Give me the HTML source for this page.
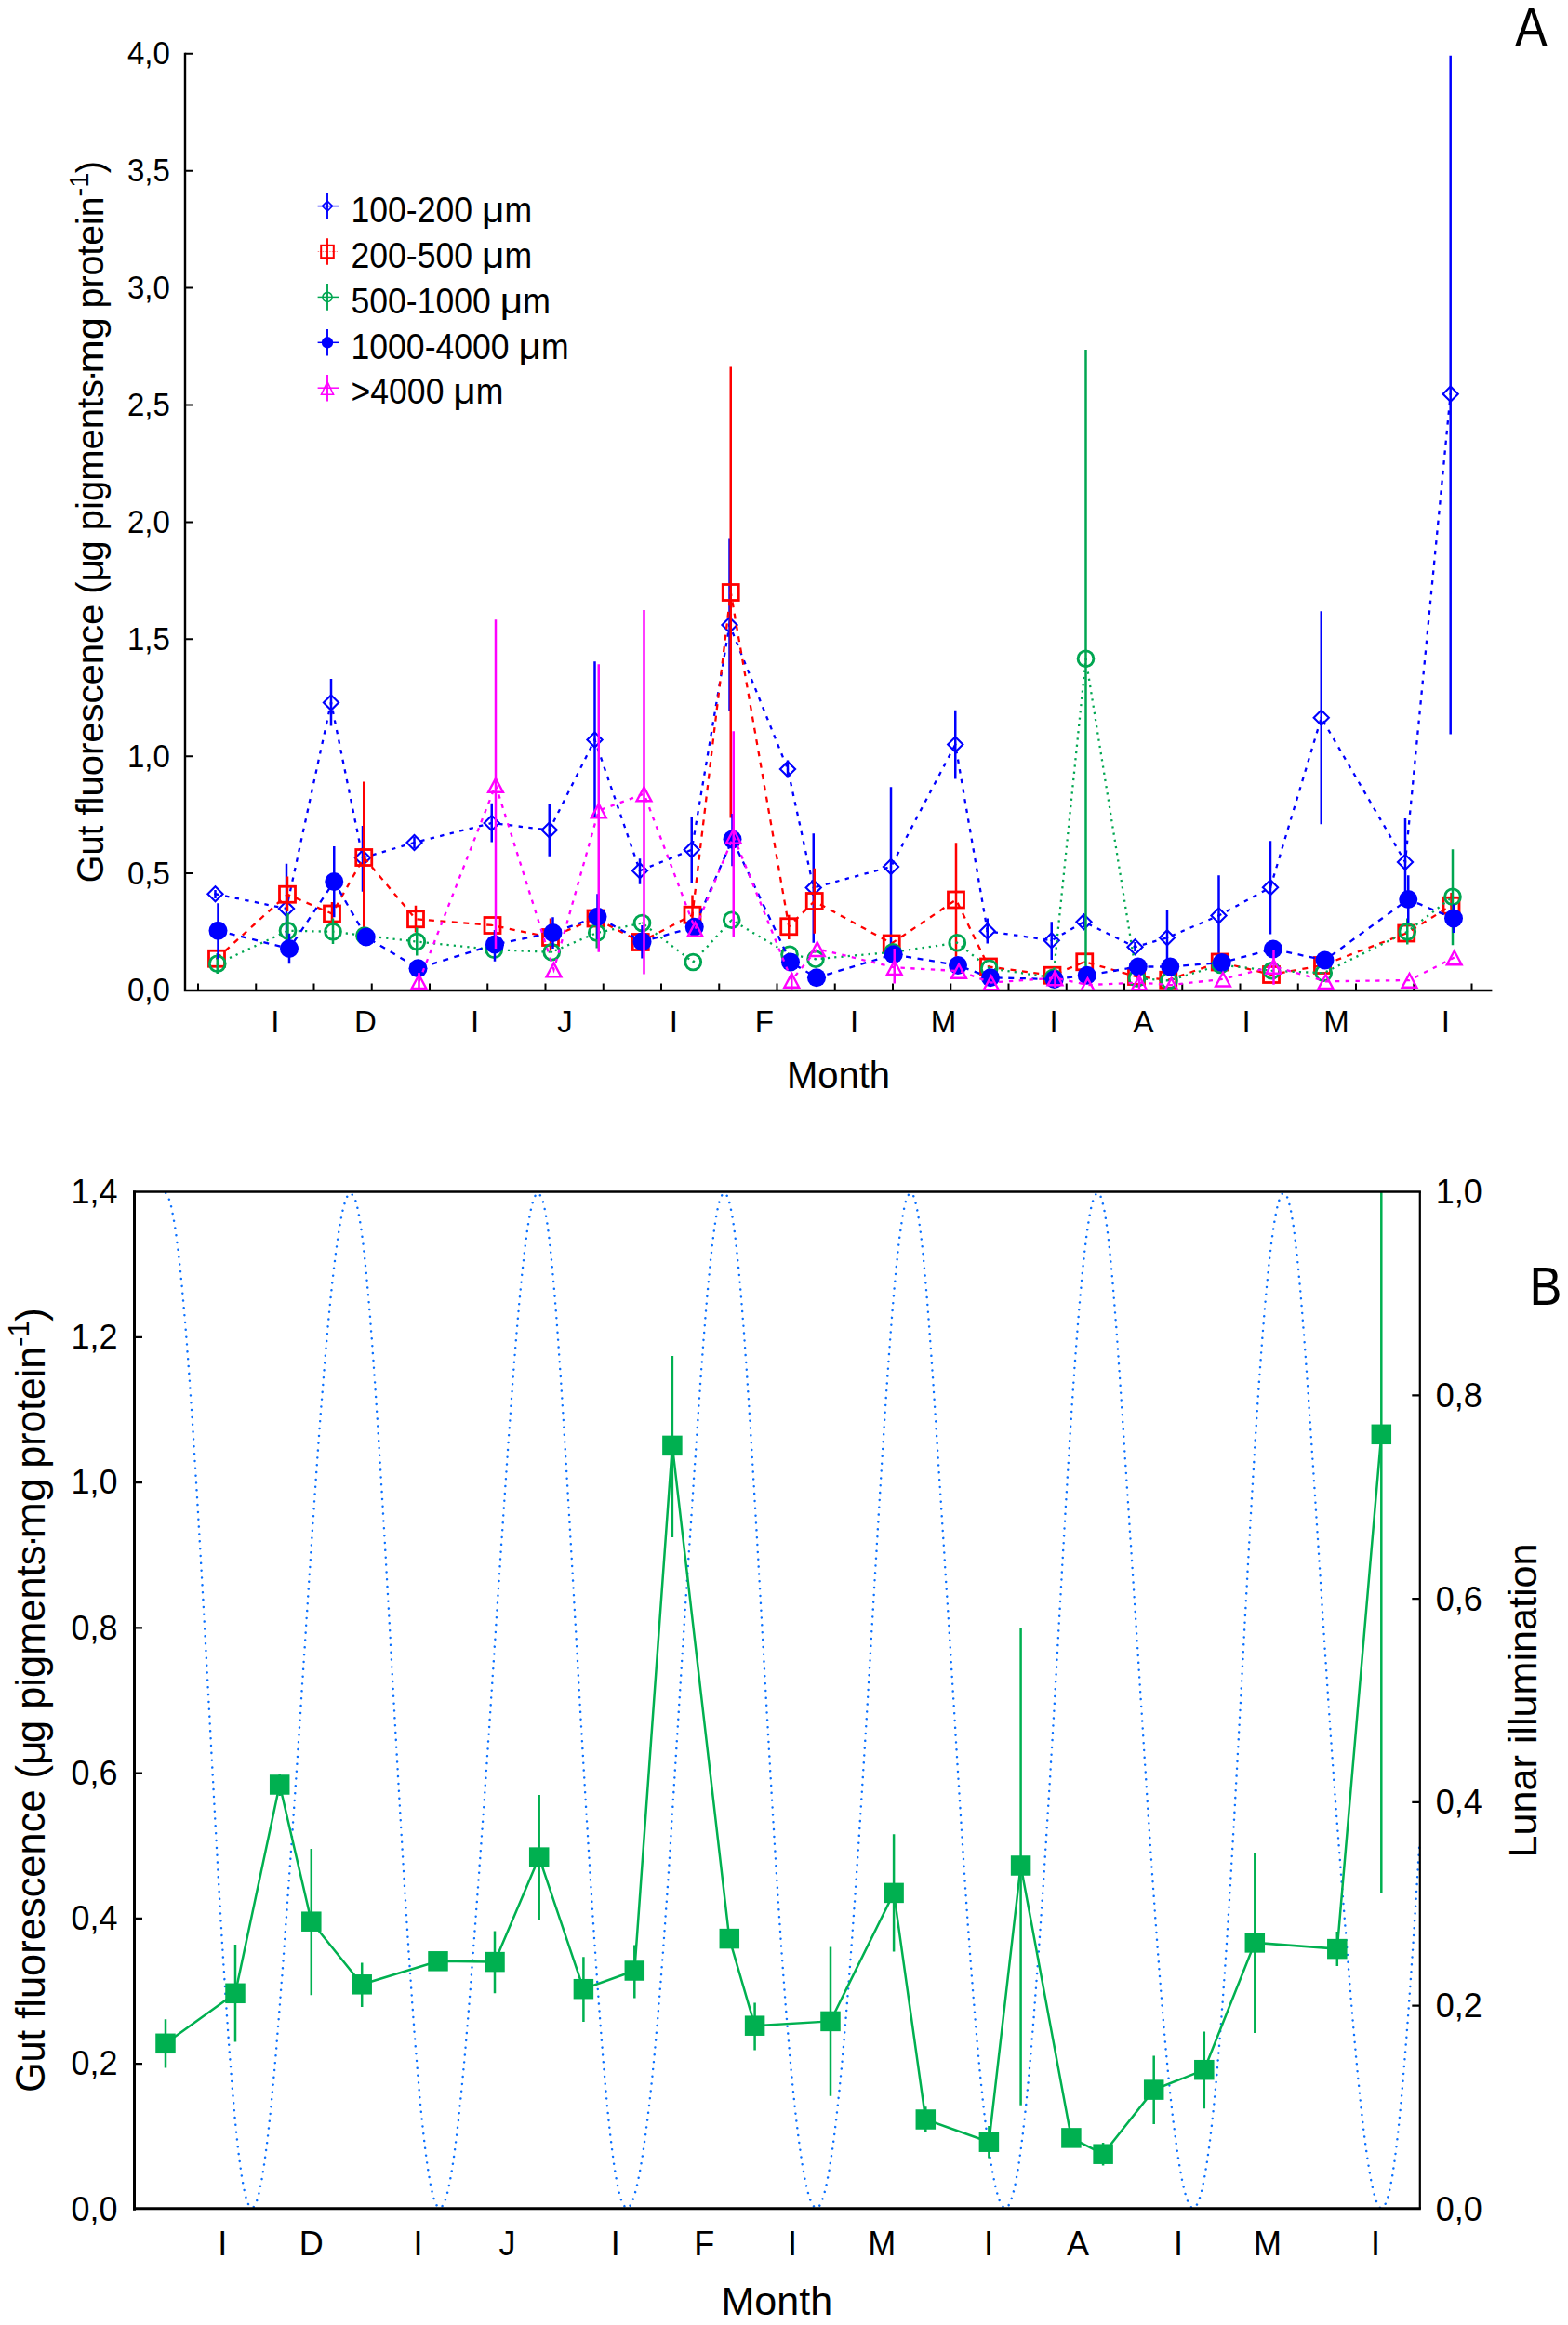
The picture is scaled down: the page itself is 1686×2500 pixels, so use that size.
<!DOCTYPE html>
<html><head><meta charset="utf-8"><title>Gut fluorescence</title>
<style>html,body{margin:0;padding:0;background:#fff}svg{display:block}</style></head>
<body>
<svg width="1686" height="2500" viewBox="0 0 1686 2500" font-family="'Liberation Sans', Arial, sans-serif" fill="#000">
<rect width="1686" height="2500" fill="#fff"/>
<g stroke="#000" fill="none">
<path d="M199 56.8V1065H1604.4" stroke-width="2.4"/>
<path d="M199 1065h8.5M199 939.1h8.5M199 813.2h8.5M199 687.3h8.5M199 561.4h8.5M199 435.5h8.5M199 309.6h8.5M199 183.7h8.5M199 57.8h8.5M213 1065v-7.5M275.25 1065v-7.5M337.5 1065v-7.5M399.75 1065v-7.5M462 1065v-7.5M524.25 1065v-7.5M586.5 1065v-7.5M648.75 1065v-7.5M711 1065v-7.5M773.25 1065v-7.5M835.5 1065v-7.5M897.75 1065v-7.5M960 1065v-7.5M1022.25 1065v-7.5M1084.5 1065v-7.5M1146.75 1065v-7.5M1209 1065v-7.5M1271.25 1065v-7.5M1333.5 1065v-7.5M1395.75 1065v-7.5M1458 1065v-7.5M1520.25 1065v-7.5M1582.5 1065v-7.5" stroke-width="2"/>
</g>
<g font-size="33" text-anchor="end">
<text transform="translate(182.8 1076.4) scale(1 1.04)">0,0</text>
<text transform="translate(182.8 950.5) scale(1 1.04)">0,5</text>
<text transform="translate(182.8 824.6) scale(1 1.04)">1,0</text>
<text transform="translate(182.8 698.7) scale(1 1.04)">1,5</text>
<text transform="translate(182.8 572.8) scale(1 1.04)">2,0</text>
<text transform="translate(182.8 446.9) scale(1 1.04)">2,5</text>
<text transform="translate(182.8 321) scale(1 1.04)">3,0</text>
<text transform="translate(182.8 195.1) scale(1 1.04)">3,5</text>
<text transform="translate(182.8 69.2) scale(1 1.04)">4,0</text>
</g>
<g font-size="33" text-anchor="middle">
<text transform="translate(295.8 1110.4) scale(1 1.03)">I</text>
<text transform="translate(392.8 1110.4) scale(1 1.03)">D</text>
<text transform="translate(510.6 1110.4) scale(1 1.03)">I</text>
<text transform="translate(607.5 1110.4) scale(1 1.03)">J</text>
<text transform="translate(724.4 1110.4) scale(1 1.03)">I</text>
<text transform="translate(821.8 1110.4) scale(1 1.03)">F</text>
<text transform="translate(918.5 1110.4) scale(1 1.03)">I</text>
<text transform="translate(1014.6 1110.4) scale(1 1.03)">M</text>
<text transform="translate(1133 1110.4) scale(1 1.03)">I</text>
<text transform="translate(1229.4 1110.4) scale(1 1.03)">A</text>
<text transform="translate(1340 1110.4) scale(1 1.03)">I</text>
<text transform="translate(1437 1110.4) scale(1 1.03)">M</text>
<text transform="translate(1554.4 1110.4) scale(1 1.03)">I</text>
</g>
<text x="901.5" y="1170" font-size="40" text-anchor="middle">Month</text>
<g transform="translate(110.9 561.45) rotate(-90) scale(1.0)" font-size="40"><text x="-387.85" textLength="61.6" lengthAdjust="spacingAndGlyphs">Gut</text><text x="-315.15">fluorescence</text><text x="-77.35">(</text><text transform="translate(-64.35 0) scale(1.085 1)">μ</text><text x="-42.05">g</text><text x="-8.75">pigments</text><text x="157.65" text-anchor="middle">·</text><text x="159.95" textLength="60.5" lengthAdjust="spacingAndGlyphs">mg</text><text x="230.05" textLength="120" lengthAdjust="spacingAndGlyphs">protein</text><text x="350" y="-15.9" font-size="29">-1</text><text x="375.15">)</text></g>
<text x="1629.3" y="48.5" font-size="58" textLength="34.4" lengthAdjust="spacingAndGlyphs">A</text>
<path d="M352 207.3V235.9" stroke="#0000ff" stroke-width="1.9"/>
<path d="M341.6 221.6H364.6" stroke="#0000ff" stroke-width="1.5"/>
<path d="M346.5 221.6L352 216.1L357.5 221.6L352 227.1Z" fill="none" stroke="#0000ff" stroke-width="1.5"/>
<g transform="translate(377.5 238.8) scale(1 1.075)" font-size="35.6"><text>100-200 </text><text transform="translate(140.51 0) scale(1.19 1)">μ</text><text x="164.91">m</text></g>
<path d="M352 256.2V284.8" stroke="#ff0000" stroke-width="1.9"/>
<path d="M341.7 270.5H363" stroke="#ff0000" stroke-width="0.8" stroke-dasharray="1.5 1" opacity="0.6"/>
<rect x="345.2" y="263.8" width="13.6" height="13.4" fill="none" stroke="#ff0000" stroke-width="2"/>
<g transform="translate(377.5 287.7) scale(1 1.075)" font-size="35.6"><text>200-500 </text><text transform="translate(140.51 0) scale(1.19 1)">μ</text><text x="164.91">m</text></g>
<path d="M352 305.1V333.7" stroke="#00a651" stroke-width="1.9"/>
<path d="M341.6 319.4H364.6" stroke="#00a651" stroke-width="1.5"/>
<circle cx="352" cy="319.4" r="5.05" fill="none" stroke="#00a651" stroke-width="1.6"/>
<g transform="translate(377.5 336.6) scale(1 1.075)" font-size="35.6"><text>500-1000 </text><text transform="translate(160.31 0) scale(1.19 1)">μ</text><text x="184.71">m</text></g>
<path d="M352 354V382.6" stroke="#0000ff" stroke-width="1.9"/>
<path d="M341.6 368.3H364.6" stroke="#0000ff" stroke-width="1.5"/>
<circle cx="352" cy="368.3" r="6.2" fill="#0000ff"/>
<g transform="translate(377.5 385.5) scale(1 1.075)" font-size="35.6"><text>1000-4000 </text><text transform="translate(180.1 0) scale(1.19 1)">μ</text><text x="204.5">m</text></g>
<path d="M352 402.9V431.5" stroke="#ff00ff" stroke-width="1.9"/>
<path d="M341.6 417.2H364.6" stroke="#ff00ff" stroke-width="1.5"/>
<path d="M352 410.7L358.5 424.2L345.5 424.2Z" fill="none" stroke="#ff00ff" stroke-width="1.6"/>
<g transform="translate(377.5 434.4) scale(1 1.075)" font-size="35.6"><text>>4000 </text><text transform="translate(109.86 0) scale(1.19 1)">μ</text><text x="134.26">m</text></g>
<clipPath id="ca"><rect x="199" y="40" width="1420" height="1024.6"/></clipPath><g clip-path="url(#ca)">
<polyline points="231.5,961.25 308,977 356,755.5 390,922.5 445.5,906 528.75,885 590.75,892.5 639.5,795.5 688,936.25 743.75,913.75 784.5,672 847,827 874.75,954.5 958,932 1027.25,800.5 1061.75,1001.25 1130.75,1011.25 1165.5,991.25 1220.5,1018.25 1255,1008.25 1310.5,984.5 1366,954.25 1420.75,771.75 1511,927 1559.7,423.7" fill="none" stroke="#0000ff" stroke-width="2.3" stroke-dasharray="4.4 6.4"/>
<path d="M231.5 957V966M308 928.75V1025.25M356 730V780.5M390 888V958.75M445.5 900V912M528.75 863.75V905.5M590.75 864.25V920.75M639.5 711.25V879.75M688 923.25V950.75M743.75 878V949.25M784.5 579.5V764.5M847 817.5V836.5M874.75 896.25V1013.75M958 846.25V1017.75M1027.25 763.75V837.5M1061.75 987.5V1014.5M1130.75 991.25V1032M1165.5 985V997M1220.5 1013V1023M1255 978.75V1037.5M1310.5 941.25V1027.5M1366 904.25V1004.5M1420.75 657.25V886.25M1511 880V973.75M1559.7 59.7V789.5" stroke="#0000ff" stroke-width="2.5" fill="none"/>
<path d="M223.4 961.25L231.5 953.15L239.6 961.25L231.5 969.35Z" fill="none" stroke="#0000ff" stroke-width="2.1"/><circle cx="231.5" cy="961.25" r="1.2" fill="#0000ff"/>
<path d="M299.9 977L308 968.9L316.1 977L308 985.1Z" fill="none" stroke="#0000ff" stroke-width="2.1"/><circle cx="308" cy="977" r="1.2" fill="#0000ff"/>
<path d="M347.9 755.5L356 747.4L364.1 755.5L356 763.6Z" fill="none" stroke="#0000ff" stroke-width="2.1"/><circle cx="356" cy="755.5" r="1.2" fill="#0000ff"/>
<path d="M381.9 922.5L390 914.4L398.1 922.5L390 930.6Z" fill="none" stroke="#0000ff" stroke-width="2.1"/><circle cx="390" cy="922.5" r="1.2" fill="#0000ff"/>
<path d="M437.4 906L445.5 897.9L453.6 906L445.5 914.1Z" fill="none" stroke="#0000ff" stroke-width="2.1"/><circle cx="445.5" cy="906" r="1.2" fill="#0000ff"/>
<path d="M520.65 885L528.75 876.9L536.85 885L528.75 893.1Z" fill="none" stroke="#0000ff" stroke-width="2.1"/><circle cx="528.75" cy="885" r="1.2" fill="#0000ff"/>
<path d="M582.65 892.5L590.75 884.4L598.85 892.5L590.75 900.6Z" fill="none" stroke="#0000ff" stroke-width="2.1"/><circle cx="590.75" cy="892.5" r="1.2" fill="#0000ff"/>
<path d="M631.4 795.5L639.5 787.4L647.6 795.5L639.5 803.6Z" fill="none" stroke="#0000ff" stroke-width="2.1"/><circle cx="639.5" cy="795.5" r="1.2" fill="#0000ff"/>
<path d="M679.9 936.25L688 928.15L696.1 936.25L688 944.35Z" fill="none" stroke="#0000ff" stroke-width="2.1"/><circle cx="688" cy="936.25" r="1.2" fill="#0000ff"/>
<path d="M735.65 913.75L743.75 905.65L751.85 913.75L743.75 921.85Z" fill="none" stroke="#0000ff" stroke-width="2.1"/><circle cx="743.75" cy="913.75" r="1.2" fill="#0000ff"/>
<path d="M776.4 672L784.5 663.9L792.6 672L784.5 680.1Z" fill="none" stroke="#0000ff" stroke-width="2.1"/><circle cx="784.5" cy="672" r="1.2" fill="#0000ff"/>
<path d="M838.9 827L847 818.9L855.1 827L847 835.1Z" fill="none" stroke="#0000ff" stroke-width="2.1"/><circle cx="847" cy="827" r="1.2" fill="#0000ff"/>
<path d="M866.65 954.5L874.75 946.4L882.85 954.5L874.75 962.6Z" fill="none" stroke="#0000ff" stroke-width="2.1"/><circle cx="874.75" cy="954.5" r="1.2" fill="#0000ff"/>
<path d="M949.9 932L958 923.9L966.1 932L958 940.1Z" fill="none" stroke="#0000ff" stroke-width="2.1"/><circle cx="958" cy="932" r="1.2" fill="#0000ff"/>
<path d="M1019.15 800.5L1027.25 792.4L1035.35 800.5L1027.25 808.6Z" fill="none" stroke="#0000ff" stroke-width="2.1"/><circle cx="1027.25" cy="800.5" r="1.2" fill="#0000ff"/>
<path d="M1053.65 1001.25L1061.75 993.15L1069.85 1001.25L1061.75 1009.35Z" fill="none" stroke="#0000ff" stroke-width="2.1"/><circle cx="1061.75" cy="1001.25" r="1.2" fill="#0000ff"/>
<path d="M1122.65 1011.25L1130.75 1003.15L1138.85 1011.25L1130.75 1019.35Z" fill="none" stroke="#0000ff" stroke-width="2.1"/><circle cx="1130.75" cy="1011.25" r="1.2" fill="#0000ff"/>
<path d="M1157.4 991.25L1165.5 983.15L1173.6 991.25L1165.5 999.35Z" fill="none" stroke="#0000ff" stroke-width="2.1"/><circle cx="1165.5" cy="991.25" r="1.2" fill="#0000ff"/>
<path d="M1212.4 1018.25L1220.5 1010.15L1228.6 1018.25L1220.5 1026.35Z" fill="none" stroke="#0000ff" stroke-width="2.1"/><circle cx="1220.5" cy="1018.25" r="1.2" fill="#0000ff"/>
<path d="M1246.9 1008.25L1255 1000.15L1263.1 1008.25L1255 1016.35Z" fill="none" stroke="#0000ff" stroke-width="2.1"/><circle cx="1255" cy="1008.25" r="1.2" fill="#0000ff"/>
<path d="M1302.4 984.5L1310.5 976.4L1318.6 984.5L1310.5 992.6Z" fill="none" stroke="#0000ff" stroke-width="2.1"/><circle cx="1310.5" cy="984.5" r="1.2" fill="#0000ff"/>
<path d="M1357.9 954.25L1366 946.15L1374.1 954.25L1366 962.35Z" fill="none" stroke="#0000ff" stroke-width="2.1"/><circle cx="1366" cy="954.25" r="1.2" fill="#0000ff"/>
<path d="M1412.65 771.75L1420.75 763.65L1428.85 771.75L1420.75 779.85Z" fill="none" stroke="#0000ff" stroke-width="2.1"/><circle cx="1420.75" cy="771.75" r="1.2" fill="#0000ff"/>
<path d="M1502.9 927L1511 918.9L1519.1 927L1511 935.1Z" fill="none" stroke="#0000ff" stroke-width="2.1"/><circle cx="1511" cy="927" r="1.2" fill="#0000ff"/>
<path d="M1551.6 423.7L1559.7 415.6L1567.8 423.7L1559.7 431.8Z" fill="none" stroke="#0000ff" stroke-width="2.1"/><circle cx="1559.7" cy="423.7" r="1.2" fill="#0000ff"/>
<polyline points="233,1030.75 309,961.75 357,982.5 391.25,922 447,988.25 529.5,995 592,1008 640.5,987.5 688.75,1013 744.5,983.75 785.75,637 848.25,996.25 875.75,969 958.75,1014.5 1028,967.5 1063,1039.5 1131.5,1048.75 1166.25,1034.25 1222,1050 1256.25,1053.75 1311.75,1034.5 1367,1048 1422,1038 1512.25,1003.5 1560.5,973.75" fill="none" stroke="#ff0000" stroke-width="2.3" stroke-dasharray="6 6.5"/>
<path d="M309 942.5V980M357 970V995M391.25 840.5V1003.75M447 973.75V1002.5M592 987.5V1022.5M744.5 962.5V1004M785.75 394.5V879.5M848.25 983.75V1010M875.75 933.75V1003.75M1028 906.25V1028.75M1560.5 960V987" stroke="#ff0000" stroke-width="2.5" fill="none"/>
<rect x="224.5" y="1022.25" width="17" height="17" fill="none" stroke="#ff0000" stroke-width="2.8"/><circle cx="233" cy="1030.75" r="1" fill="#ff0000"/>
<rect x="300.5" y="953.25" width="17" height="17" fill="none" stroke="#ff0000" stroke-width="2.8"/><circle cx="309" cy="961.75" r="1" fill="#ff0000"/>
<rect x="348.5" y="974" width="17" height="17" fill="none" stroke="#ff0000" stroke-width="2.8"/><circle cx="357" cy="982.5" r="1" fill="#ff0000"/>
<rect x="382.75" y="913.5" width="17" height="17" fill="none" stroke="#ff0000" stroke-width="2.8"/><circle cx="391.25" cy="922" r="1" fill="#ff0000"/>
<rect x="438.5" y="979.75" width="17" height="17" fill="none" stroke="#ff0000" stroke-width="2.8"/><circle cx="447" cy="988.25" r="1" fill="#ff0000"/>
<rect x="521" y="986.5" width="17" height="17" fill="none" stroke="#ff0000" stroke-width="2.8"/><circle cx="529.5" cy="995" r="1" fill="#ff0000"/>
<rect x="583.5" y="999.5" width="17" height="17" fill="none" stroke="#ff0000" stroke-width="2.8"/><circle cx="592" cy="1008" r="1" fill="#ff0000"/>
<rect x="632" y="979" width="17" height="17" fill="none" stroke="#ff0000" stroke-width="2.8"/><circle cx="640.5" cy="987.5" r="1" fill="#ff0000"/>
<rect x="680.25" y="1004.5" width="17" height="17" fill="none" stroke="#ff0000" stroke-width="2.8"/><circle cx="688.75" cy="1013" r="1" fill="#ff0000"/>
<rect x="736" y="975.25" width="17" height="17" fill="none" stroke="#ff0000" stroke-width="2.8"/><circle cx="744.5" cy="983.75" r="1" fill="#ff0000"/>
<rect x="777.25" y="628.5" width="17" height="17" fill="none" stroke="#ff0000" stroke-width="2.8"/><circle cx="785.75" cy="637" r="1" fill="#ff0000"/>
<rect x="839.75" y="987.75" width="17" height="17" fill="none" stroke="#ff0000" stroke-width="2.8"/><circle cx="848.25" cy="996.25" r="1" fill="#ff0000"/>
<rect x="867.25" y="960.5" width="17" height="17" fill="none" stroke="#ff0000" stroke-width="2.8"/><circle cx="875.75" cy="969" r="1" fill="#ff0000"/>
<rect x="950.25" y="1006" width="17" height="17" fill="none" stroke="#ff0000" stroke-width="2.8"/><circle cx="958.75" cy="1014.5" r="1" fill="#ff0000"/>
<rect x="1019.5" y="959" width="17" height="17" fill="none" stroke="#ff0000" stroke-width="2.8"/><circle cx="1028" cy="967.5" r="1" fill="#ff0000"/>
<rect x="1054.5" y="1031" width="17" height="17" fill="none" stroke="#ff0000" stroke-width="2.8"/><circle cx="1063" cy="1039.5" r="1" fill="#ff0000"/>
<rect x="1123" y="1040.25" width="17" height="17" fill="none" stroke="#ff0000" stroke-width="2.8"/><circle cx="1131.5" cy="1048.75" r="1" fill="#ff0000"/>
<rect x="1157.75" y="1025.75" width="17" height="17" fill="none" stroke="#ff0000" stroke-width="2.8"/><circle cx="1166.25" cy="1034.25" r="1" fill="#ff0000"/>
<rect x="1213.5" y="1041.5" width="17" height="17" fill="none" stroke="#ff0000" stroke-width="2.8"/><circle cx="1222" cy="1050" r="1" fill="#ff0000"/>
<rect x="1247.75" y="1045.25" width="17" height="17" fill="none" stroke="#ff0000" stroke-width="2.8"/><circle cx="1256.25" cy="1053.75" r="1" fill="#ff0000"/>
<rect x="1303.25" y="1026" width="17" height="17" fill="none" stroke="#ff0000" stroke-width="2.8"/><circle cx="1311.75" cy="1034.5" r="1" fill="#ff0000"/>
<rect x="1358.5" y="1039.5" width="17" height="17" fill="none" stroke="#ff0000" stroke-width="2.8"/><circle cx="1367" cy="1048" r="1" fill="#ff0000"/>
<rect x="1413.5" y="1029.5" width="17" height="17" fill="none" stroke="#ff0000" stroke-width="2.8"/><circle cx="1422" cy="1038" r="1" fill="#ff0000"/>
<rect x="1503.75" y="995" width="17" height="17" fill="none" stroke="#ff0000" stroke-width="2.8"/><circle cx="1512.25" cy="1003.5" r="1" fill="#ff0000"/>
<rect x="1552" y="965.25" width="17" height="17" fill="none" stroke="#ff0000" stroke-width="2.8"/><circle cx="1560.5" cy="973.75" r="1" fill="#ff0000"/>
<polyline points="233.75,1036.25 309.5,1000.75 358,1001.75 392,1006 448.25,1012.5 531.25,1021.25 593.25,1023.75 641.75,1003 690.5,992.5 745.25,1034.5 786.75,989.25 849,1026.25 877,1031.25 960,1023.75 1029.25,1013.75 1063.75,1041.25 1132.5,1051.25 1167.5,708.25 1222.5,1052 1257,1054.5 1312.5,1037.5 1367.5,1043.75 1423.25,1046.25 1513.25,1001.75 1562,964.25" fill="none" stroke="#00a651" stroke-width="2.3" stroke-dasharray="2.2 5.1"/>
<path d="M233.75 1025V1047M309.5 982V1017M358 987.5V1015M448.25 997.5V1027.5M641.75 987.5V1019.5M1167.5 376V1040.5M1513.25 987.5V1015.5M1562 913.25V1016.25" stroke="#00a651" stroke-width="2.5" fill="none"/>
<circle cx="233.75" cy="1036.25" r="8.4" fill="none" stroke="#00a651" stroke-width="2.9"/><circle cx="233.75" cy="1036.25" r="1" fill="#00a651"/>
<circle cx="309.5" cy="1000.75" r="8.4" fill="none" stroke="#00a651" stroke-width="2.9"/><circle cx="309.5" cy="1000.75" r="1" fill="#00a651"/>
<circle cx="358" cy="1001.75" r="8.4" fill="none" stroke="#00a651" stroke-width="2.9"/><circle cx="358" cy="1001.75" r="1" fill="#00a651"/>
<circle cx="392" cy="1006" r="8.4" fill="none" stroke="#00a651" stroke-width="2.9"/><circle cx="392" cy="1006" r="1" fill="#00a651"/>
<circle cx="448.25" cy="1012.5" r="8.4" fill="none" stroke="#00a651" stroke-width="2.9"/><circle cx="448.25" cy="1012.5" r="1" fill="#00a651"/>
<circle cx="531.25" cy="1021.25" r="8.4" fill="none" stroke="#00a651" stroke-width="2.9"/><circle cx="531.25" cy="1021.25" r="1" fill="#00a651"/>
<circle cx="593.25" cy="1023.75" r="8.4" fill="none" stroke="#00a651" stroke-width="2.9"/><circle cx="593.25" cy="1023.75" r="1" fill="#00a651"/>
<circle cx="641.75" cy="1003" r="8.4" fill="none" stroke="#00a651" stroke-width="2.9"/><circle cx="641.75" cy="1003" r="1" fill="#00a651"/>
<circle cx="690.5" cy="992.5" r="8.4" fill="none" stroke="#00a651" stroke-width="2.9"/><circle cx="690.5" cy="992.5" r="1" fill="#00a651"/>
<circle cx="745.25" cy="1034.5" r="8.4" fill="none" stroke="#00a651" stroke-width="2.9"/><circle cx="745.25" cy="1034.5" r="1" fill="#00a651"/>
<circle cx="786.75" cy="989.25" r="8.4" fill="none" stroke="#00a651" stroke-width="2.9"/><circle cx="786.75" cy="989.25" r="1" fill="#00a651"/>
<circle cx="849" cy="1026.25" r="8.4" fill="none" stroke="#00a651" stroke-width="2.9"/><circle cx="849" cy="1026.25" r="1" fill="#00a651"/>
<circle cx="877" cy="1031.25" r="8.4" fill="none" stroke="#00a651" stroke-width="2.9"/><circle cx="877" cy="1031.25" r="1" fill="#00a651"/>
<circle cx="960" cy="1023.75" r="8.4" fill="none" stroke="#00a651" stroke-width="2.9"/><circle cx="960" cy="1023.75" r="1" fill="#00a651"/>
<circle cx="1029.25" cy="1013.75" r="8.4" fill="none" stroke="#00a651" stroke-width="2.9"/><circle cx="1029.25" cy="1013.75" r="1" fill="#00a651"/>
<circle cx="1063.75" cy="1041.25" r="8.4" fill="none" stroke="#00a651" stroke-width="2.9"/><circle cx="1063.75" cy="1041.25" r="1" fill="#00a651"/>
<circle cx="1132.5" cy="1051.25" r="8.4" fill="none" stroke="#00a651" stroke-width="2.9"/><circle cx="1132.5" cy="1051.25" r="1" fill="#00a651"/>
<circle cx="1167.5" cy="708.25" r="8.4" fill="none" stroke="#00a651" stroke-width="2.9"/><circle cx="1167.5" cy="708.25" r="1" fill="#00a651"/>
<circle cx="1222.5" cy="1052" r="8.4" fill="none" stroke="#00a651" stroke-width="2.9"/><circle cx="1222.5" cy="1052" r="1" fill="#00a651"/>
<circle cx="1257" cy="1054.5" r="8.4" fill="none" stroke="#00a651" stroke-width="2.9"/><circle cx="1257" cy="1054.5" r="1" fill="#00a651"/>
<circle cx="1312.5" cy="1037.5" r="8.4" fill="none" stroke="#00a651" stroke-width="2.9"/><circle cx="1312.5" cy="1037.5" r="1" fill="#00a651"/>
<circle cx="1367.5" cy="1043.75" r="8.4" fill="none" stroke="#00a651" stroke-width="2.9"/><circle cx="1367.5" cy="1043.75" r="1" fill="#00a651"/>
<circle cx="1423.25" cy="1046.25" r="8.4" fill="none" stroke="#00a651" stroke-width="2.9"/><circle cx="1423.25" cy="1046.25" r="1" fill="#00a651"/>
<circle cx="1513.25" cy="1001.75" r="8.4" fill="none" stroke="#00a651" stroke-width="2.9"/><circle cx="1513.25" cy="1001.75" r="1" fill="#00a651"/>
<circle cx="1562" cy="964.25" r="8.4" fill="none" stroke="#00a651" stroke-width="2.9"/><circle cx="1562" cy="964.25" r="1" fill="#00a651"/>
<polyline points="234.5,1000.75 311,1020 359.25,948 393.75,1007.5 449.5,1041.25 532,1015.5 594.5,1003 642.5,985.75 690.5,1012.5 746.75,996.75 787.5,902.5 850,1034.5 878,1051.25 960.75,1026.25 1030,1038 1065,1051.25 1133.75,1053 1168.75,1048.75 1223.75,1039.5 1258.25,1039.5 1313.75,1035 1369,1020.5 1424.5,1032.5 1514.25,967 1563,987.5" fill="none" stroke="#0000ff" stroke-width="2.3" stroke-dasharray="6 6.6"/>
<path d="M234.5 971.25V1031.25M311 1003.75V1036.25M359.25 910V986.25M532 1000V1033.75M594.5 986.25V1020M642.5 961.25V1010M690.5 995V1030.5M787.5 875V931.25M1514.25 941.25V992.5M1563 972.5V1003" stroke="#0000ff" stroke-width="2.5" fill="none"/>
<circle cx="234.5" cy="1000.75" r="10" fill="#0000ff"/>
<circle cx="311" cy="1020" r="10" fill="#0000ff"/>
<circle cx="359.25" cy="948" r="10" fill="#0000ff"/>
<circle cx="393.75" cy="1007.5" r="10" fill="#0000ff"/>
<circle cx="449.5" cy="1041.25" r="10" fill="#0000ff"/>
<circle cx="532" cy="1015.5" r="10" fill="#0000ff"/>
<circle cx="594.5" cy="1003" r="10" fill="#0000ff"/>
<circle cx="642.5" cy="985.75" r="10" fill="#0000ff"/>
<circle cx="690.5" cy="1012.5" r="10" fill="#0000ff"/>
<circle cx="746.75" cy="996.75" r="10" fill="#0000ff"/>
<circle cx="787.5" cy="902.5" r="10" fill="#0000ff"/>
<circle cx="850" cy="1034.5" r="10" fill="#0000ff"/>
<circle cx="878" cy="1051.25" r="10" fill="#0000ff"/>
<circle cx="960.75" cy="1026.25" r="10" fill="#0000ff"/>
<circle cx="1030" cy="1038" r="10" fill="#0000ff"/>
<circle cx="1065" cy="1051.25" r="10" fill="#0000ff"/>
<circle cx="1133.75" cy="1053" r="10" fill="#0000ff"/>
<circle cx="1168.75" cy="1048.75" r="10" fill="#0000ff"/>
<circle cx="1223.75" cy="1039.5" r="10" fill="#0000ff"/>
<circle cx="1258.25" cy="1039.5" r="10" fill="#0000ff"/>
<circle cx="1313.75" cy="1035" r="10" fill="#0000ff"/>
<circle cx="1369" cy="1020.5" r="10" fill="#0000ff"/>
<circle cx="1424.5" cy="1032.5" r="10" fill="#0000ff"/>
<circle cx="1514.25" cy="967" r="10" fill="#0000ff"/>
<circle cx="1563" cy="987.5" r="10" fill="#0000ff"/>
<polyline points="450.5,1055.3 533,844.05 595.5,1042.65 643.75,871.55 692.5,853.55 747.5,999.05 788.75,899.05 851.25,1054.05 878.75,1020.3 961.75,1040.3 1031,1044.05 1065.75,1056.55 1134.5,1051.55 1169.5,1059.05 1225,1056.55 1259.5,1059.05 1315,1052.8 1369.5,1039.05 1425.5,1055.3 1515.5,1054.05 1563.75,1029.55" fill="none" stroke="#ff00ff" stroke-width="2.3" stroke-dasharray="4.4 6.4"/>
<path d="M450.5 1046V1064.5M533 666.3V1020M643.75 714.25V1023.75M692.5 656V1047.5M788.75 786.25V1007M851.25 1046V1064M961.75 1020V1057.5M1134.5 1043V1062M1225 1048V1066M1369.5 1021.25V1058.75" stroke="#ff00ff" stroke-width="2.5" fill="none"/>
<path d="M450.5 1048.3L458.4 1062.95L442.6 1062.95Z" fill="none" stroke="#ff00ff" stroke-width="2.4" stroke-linejoin="miter"/>
<path d="M533 837.05L540.9 851.7L525.1 851.7Z" fill="none" stroke="#ff00ff" stroke-width="2.4" stroke-linejoin="miter"/>
<path d="M595.5 1035.65L603.4 1050.3L587.6 1050.3Z" fill="none" stroke="#ff00ff" stroke-width="2.4" stroke-linejoin="miter"/>
<path d="M643.75 864.55L651.65 879.2L635.85 879.2Z" fill="none" stroke="#ff00ff" stroke-width="2.4" stroke-linejoin="miter"/>
<path d="M692.5 846.55L700.4 861.2L684.6 861.2Z" fill="none" stroke="#ff00ff" stroke-width="2.4" stroke-linejoin="miter"/>
<path d="M747.5 992.05L755.4 1006.7L739.6 1006.7Z" fill="none" stroke="#ff00ff" stroke-width="2.4" stroke-linejoin="miter"/>
<path d="M788.75 892.05L796.65 906.7L780.85 906.7Z" fill="none" stroke="#ff00ff" stroke-width="2.4" stroke-linejoin="miter"/>
<path d="M851.25 1047.05L859.15 1061.7L843.35 1061.7Z" fill="none" stroke="#ff00ff" stroke-width="2.4" stroke-linejoin="miter"/>
<path d="M878.75 1013.3L886.65 1027.95L870.85 1027.95Z" fill="none" stroke="#ff00ff" stroke-width="2.4" stroke-linejoin="miter"/>
<path d="M961.75 1033.3L969.65 1047.95L953.85 1047.95Z" fill="none" stroke="#ff00ff" stroke-width="2.4" stroke-linejoin="miter"/>
<path d="M1031 1037.05L1038.9 1051.7L1023.1 1051.7Z" fill="none" stroke="#ff00ff" stroke-width="2.4" stroke-linejoin="miter"/>
<path d="M1065.75 1049.55L1073.65 1064.2L1057.85 1064.2Z" fill="none" stroke="#ff00ff" stroke-width="2.4" stroke-linejoin="miter"/>
<path d="M1134.5 1044.55L1142.4 1059.2L1126.6 1059.2Z" fill="none" stroke="#ff00ff" stroke-width="2.4" stroke-linejoin="miter"/>
<path d="M1169.5 1052.05L1177.4 1066.7L1161.6 1066.7Z" fill="none" stroke="#ff00ff" stroke-width="2.4" stroke-linejoin="miter"/>
<path d="M1225 1049.55L1232.9 1064.2L1217.1 1064.2Z" fill="none" stroke="#ff00ff" stroke-width="2.4" stroke-linejoin="miter"/>
<path d="M1259.5 1052.05L1267.4 1066.7L1251.6 1066.7Z" fill="none" stroke="#ff00ff" stroke-width="2.4" stroke-linejoin="miter"/>
<path d="M1315 1045.8L1322.9 1060.45L1307.1 1060.45Z" fill="none" stroke="#ff00ff" stroke-width="2.4" stroke-linejoin="miter"/>
<path d="M1369.5 1032.05L1377.4 1046.7L1361.6 1046.7Z" fill="none" stroke="#ff00ff" stroke-width="2.4" stroke-linejoin="miter"/>
<path d="M1425.5 1048.3L1433.4 1062.95L1417.6 1062.95Z" fill="none" stroke="#ff00ff" stroke-width="2.4" stroke-linejoin="miter"/>
<path d="M1515.5 1047.05L1523.4 1061.7L1507.6 1061.7Z" fill="none" stroke="#ff00ff" stroke-width="2.4" stroke-linejoin="miter"/>
<path d="M1563.75 1022.55L1571.65 1037.2L1555.85 1037.2Z" fill="none" stroke="#ff00ff" stroke-width="2.4" stroke-linejoin="miter"/>
</g>
<polyline points="178.2,1282.8 181.0,1287.2 182.8,1292.4 184.1,1297.4 185.2,1302.5 186.3,1308.2 187.2,1313.3 188.1,1318.9 189.0,1324.9 189.9,1331.3 190.5,1336.4 191.2,1341.8 191.9,1347.3 192.5,1353.2 193.2,1359.2 193.9,1365.5 194.5,1372.0 195.2,1378.7 195.9,1385.7 196.5,1392.8 197.2,1400.2 197.6,1405.3 198.1,1410.4 198.5,1415.6 199.0,1420.9 199.4,1426.3 199.9,1431.8 200.3,1437.3 200.8,1443.0 201.2,1448.7 201.6,1454.6 202.1,1460.5 202.5,1466.4 203.0,1472.5 203.4,1478.6 203.9,1484.8 204.3,1491.1 204.7,1497.5 205.2,1503.9 205.6,1510.4 206.1,1517.0 206.5,1523.6 207.0,1530.3 207.4,1537.1 207.9,1543.9 208.3,1550.8 208.7,1557.8 209.2,1564.8 209.6,1571.9 210.1,1579.0 210.5,1586.2 211.0,1593.4 211.4,1600.7 211.9,1608.0 212.3,1615.4 212.8,1622.8 213.2,1630.3 213.6,1637.8 214.1,1645.4 214.5,1653.0 215.0,1660.6 215.4,1668.3 215.9,1676.0 216.3,1683.7 216.8,1691.5 217.2,1699.3 217.7,1707.1 218.1,1715.0 218.6,1722.9 219.0,1730.8 219.4,1738.7 219.9,1746.6 220.3,1754.6 220.8,1762.6 221.2,1770.6 221.7,1778.6 222.1,1786.6 222.5,1794.6 223.0,1802.6 223.4,1810.7 223.9,1818.7 224.3,1826.7 224.7,1834.8 225.2,1842.8 225.6,1850.9 226.0,1858.9 226.5,1866.9 226.9,1874.9 227.3,1883.0 227.8,1891.0 228.2,1898.9 228.6,1906.9 229.1,1914.9 229.5,1922.8 229.9,1930.7 230.4,1938.6 230.8,1946.4 231.2,1954.3 231.6,1962.1 232.1,1969.9 232.5,1977.6 232.9,1985.4 233.4,1993.0 233.8,2000.7 234.2,2008.3 234.6,2015.9 235.1,2023.4 235.5,2030.9 235.9,2038.4 236.4,2045.8 236.8,2053.1 237.2,2060.4 237.6,2067.7 238.1,2074.9 238.5,2082.0 238.9,2089.1 239.4,2096.2 239.8,2103.1 240.2,2110.1 240.7,2116.9 241.1,2123.7 241.5,2130.4 242.0,2137.1 242.4,2143.7 242.8,2150.3 243.3,2156.7 243.7,2163.1 244.1,2169.4 244.6,2175.7 245.0,2181.8 245.4,2187.9 245.8,2193.9 246.3,2199.9 246.7,2205.7 247.1,2211.5 247.6,2217.2 248.0,2222.8 248.4,2228.3 248.9,2233.8 249.3,2239.1 249.7,2244.4 250.1,2249.5 250.6,2254.6 251.0,2259.6 251.7,2266.9 252.3,2274.0 252.9,2280.8 253.6,2287.5 254.2,2293.9 254.9,2300.1 255.5,2306.1 256.2,2311.8 256.8,2317.3 257.5,2322.5 258.2,2327.6 259.0,2333.9 259.9,2339.7 260.8,2345.2 261.7,2350.1 262.8,2355.7 264.1,2361.5 265.7,2366.9 267.7,2371.7 272.2,2373.9 275.0,2369.6 276.9,2364.3 278.3,2359.1 279.4,2354.0 280.6,2348.2 281.6,2343.1 282.5,2337.5 283.4,2331.4 284.4,2325.0 285.1,2319.8 285.8,2314.4 286.5,2308.8 287.3,2303.0 288.0,2296.9 288.7,2290.6 289.4,2284.0 290.2,2277.3 290.9,2270.3 291.6,2263.1 292.3,2255.7 292.8,2250.6 293.3,2245.5 293.8,2240.2 294.3,2234.9 294.8,2229.5 295.3,2224.0 295.8,2218.4 296.3,2212.7 296.8,2207.0 297.3,2201.2 297.7,2195.2 298.2,2189.2 298.7,2183.2 299.2,2177.0 299.7,2170.8 300.2,2164.5 300.7,2158.1 301.2,2151.7 301.7,2145.1 302.2,2138.5 302.7,2131.9 303.3,2125.2 303.8,2118.4 304.3,2111.5 304.8,2104.6 305.3,2097.7 305.8,2090.6 306.3,2083.6 306.8,2076.4 307.3,2069.2 307.9,2062.0 308.4,2054.7 308.9,2047.3 309.4,2040.0 310.0,2032.5 310.5,2025.0 311.0,2017.5 311.6,2009.9 312.1,2002.3 312.6,1994.7 313.2,1987.0 313.7,1979.3 314.3,1971.6 314.8,1963.8 315.3,1956.0 315.9,1948.1 316.4,1940.3 317.0,1932.4 317.5,1924.5 318.0,1916.6 318.6,1908.6 319.1,1900.7 319.7,1892.7 320.2,1884.7 320.7,1876.7 321.3,1868.7 321.8,1860.6 322.3,1852.6 322.9,1844.6 323.4,1836.5 323.9,1828.5 324.4,1820.4 324.9,1812.4 325.5,1804.4 326.0,1796.3 326.5,1788.3 327.0,1780.3 327.6,1772.3 328.1,1764.3 328.6,1756.3 329.1,1748.3 329.6,1740.4 330.2,1732.5 330.7,1724.6 331.2,1716.7 331.7,1708.8 332.2,1701.0 332.7,1693.2 333.3,1685.4 333.8,1677.7 334.3,1670.0 334.8,1662.3 335.3,1654.6 335.8,1647.0 336.3,1639.5 336.9,1631.9 337.4,1624.5 337.9,1617.0 338.4,1609.6 338.9,1602.3 339.4,1595.0 339.9,1587.7 340.4,1580.6 340.9,1573.4 341.4,1566.3 341.9,1559.3 342.4,1552.3 342.9,1545.4 343.4,1538.6 343.9,1531.8 344.4,1525.1 344.9,1518.4 345.4,1511.8 346.0,1505.3 346.5,1498.9 347.0,1492.5 347.5,1486.2 348.0,1480.0 348.5,1473.8 349.0,1467.7 349.5,1461.7 350.0,1455.8 350.5,1450.0 351.0,1444.2 351.5,1438.6 352.0,1433.0 352.5,1427.5 353.0,1422.1 353.5,1416.7 354.0,1411.5 354.5,1406.4 355.0,1401.3 355.7,1393.9 356.5,1386.7 357.2,1379.7 358.0,1373.0 358.7,1366.4 359.5,1360.1 360.2,1354.0 360.9,1348.2 361.7,1342.5 362.4,1337.2 363.2,1332.0 364.1,1325.5 365.1,1319.5 366.1,1313.9 367.0,1308.8 368.2,1302.9 369.4,1297.9 370.9,1292.7 372.8,1287.4 375.6,1283.1 380.1,1285.3 382.1,1290.1 383.6,1295.5 384.9,1301.3 386.0,1306.9 386.9,1311.9 387.7,1317.3 388.6,1323.1 389.4,1329.5 390.1,1334.5 390.7,1339.7 391.3,1345.2 392.0,1351.0 392.6,1356.9 393.2,1363.1 393.9,1369.5 394.5,1376.2 395.1,1383.1 395.8,1390.1 396.4,1397.4 396.8,1402.4 397.2,1407.5 397.7,1412.7 398.1,1417.9 398.5,1423.3 398.9,1428.7 399.3,1434.2 399.8,1439.8 400.2,1445.5 400.6,1451.3 401.0,1457.1 401.5,1463.1 401.9,1469.1 402.3,1475.2 402.7,1481.4 403.2,1487.6 403.6,1493.9 404.0,1500.3 404.5,1506.8 404.9,1513.3 405.3,1519.9 405.8,1526.6 406.2,1533.3 406.6,1540.1 407.1,1547.0 407.5,1553.9 407.9,1560.9 408.4,1567.9 408.8,1575.0 409.3,1582.2 409.7,1589.4 410.1,1596.6 410.6,1603.9 411.0,1611.3 411.5,1618.7 411.9,1626.1 412.3,1633.6 412.8,1641.1 413.2,1648.7 413.7,1656.3 414.1,1664.0 414.6,1671.7 415.0,1679.4 415.4,1687.1 415.9,1694.9 416.3,1702.7 416.8,1710.6 417.2,1718.4 417.7,1726.3 418.1,1734.2 418.6,1742.2 419.0,1750.1 419.5,1758.1 419.9,1766.1 420.3,1774.1 420.8,1782.1 421.2,1790.1 421.7,1798.1 422.1,1806.2 422.6,1814.2 423.0,1822.2 423.5,1830.3 424.0,1838.3 424.4,1846.4 424.9,1854.4 425.3,1862.4 425.8,1870.5 426.2,1878.5 426.7,1886.5 427.1,1894.5 427.6,1902.4 428.0,1910.4 428.5,1918.3 429.0,1926.3 429.4,1934.2 429.9,1942.0 430.3,1949.9 430.8,1957.7 431.2,1965.5 431.7,1973.3 432.2,1981.0 432.6,1988.7 433.1,1996.4 433.5,2004.0 434.0,2011.6 434.5,2019.2 434.9,2026.7 435.4,2034.2 435.9,2041.6 436.3,2049.0 436.8,2056.3 437.2,2063.6 437.7,2070.8 438.2,2078.0 438.6,2085.2 439.1,2092.2 439.5,2099.2 440.0,2106.2 440.5,2113.1 440.9,2119.9 441.4,2126.7 441.9,2133.4 442.3,2140.0 442.8,2146.6 443.2,2153.1 443.7,2159.5 444.2,2165.9 444.6,2172.2 445.1,2178.4 445.5,2184.5 446.0,2190.6 446.5,2196.6 446.9,2202.5 447.4,2208.3 447.9,2214.0 448.3,2219.7 448.8,2225.2 449.2,2230.7 449.7,2236.1 450.2,2241.4 450.6,2246.6 451.1,2251.8 451.5,2256.8 452.2,2264.2 452.9,2271.3 453.6,2278.3 454.3,2285.0 455.0,2291.5 455.7,2297.8 456.4,2303.9 457.1,2309.7 457.8,2315.3 458.5,2320.6 459.2,2325.7 460.1,2332.1 461.1,2338.1 462.0,2343.7 462.9,2348.8 464.1,2354.5 465.3,2359.6 466.7,2364.6 468.6,2369.8 471.5,2374.0 476.1,2371.9 478.3,2367.2 480.0,2362.0 481.5,2356.3 482.7,2350.8 483.7,2345.9 484.7,2340.5 485.7,2334.7 486.7,2328.5 487.4,2323.5 488.2,2318.3 488.9,2312.8 489.6,2307.1 490.4,2301.2 491.2,2295.1 491.9,2288.7 492.7,2282.1 493.4,2275.2 494.2,2268.2 494.9,2260.9 495.7,2253.5 496.2,2248.4 496.7,2243.2 497.2,2237.9 497.7,2232.6 498.2,2227.1 498.7,2221.6 499.3,2215.9 499.8,2210.2 500.3,2204.4 500.8,2198.6 501.3,2192.6 501.8,2186.6 502.3,2180.5 502.9,2174.3 503.4,2168.0 503.9,2161.7 504.4,2155.3 504.9,2148.8 505.5,2142.2 506.0,2135.6 506.5,2128.9 507.0,2122.2 507.5,2115.4 508.1,2108.5 508.6,2101.6 509.1,2094.6 509.7,2087.5 510.2,2080.4 510.7,2073.3 511.3,2066.1 511.8,2058.8 512.3,2051.5 512.9,2044.1 513.4,2036.7 514.0,2029.2 514.5,2021.7 515.1,2014.2 515.6,2006.6 516.2,1999.0 516.7,1991.3 517.3,1983.6 517.8,1975.9 518.4,1968.1 519.0,1960.4 519.5,1952.5 520.1,1944.7 520.6,1936.8 521.2,1928.9 521.7,1921.0 522.3,1913.1 522.8,1905.1 523.4,1897.1 523.9,1889.2 524.5,1881.2 525.0,1873.2 525.6,1865.1 526.1,1857.1 526.6,1849.1 527.2,1841.0 527.7,1833.0 528.2,1824.9 528.8,1816.9 529.3,1808.9 529.8,1800.8 530.4,1792.8 530.9,1784.8 531.4,1776.8 531.9,1768.8 532.5,1760.8 533.0,1752.8 533.5,1744.9 534.0,1736.9 534.6,1729.0 535.1,1721.1 535.6,1713.2 536.1,1705.4 536.7,1697.6 537.2,1689.8 537.7,1682.0 538.2,1674.3 538.7,1666.6 539.2,1658.9 539.8,1651.3 540.3,1643.7 540.8,1636.1 541.3,1628.6 541.8,1621.2 542.3,1613.8 542.8,1606.4 543.3,1599.1 543.8,1591.8 544.3,1584.6 544.8,1577.4 545.3,1570.3 545.8,1563.2 546.2,1556.2 546.7,1549.3 547.2,1542.4 547.7,1535.6 548.2,1528.8 548.7,1522.1 549.1,1515.5 549.6,1509.0 550.1,1502.5 550.6,1496.1 551.0,1489.7 551.5,1483.4 552.0,1477.3 552.5,1471.1 552.9,1465.1 553.4,1459.1 553.9,1453.2 554.3,1447.4 554.8,1441.7 555.3,1436.1 555.7,1430.5 556.2,1425.1 556.7,1419.7 557.1,1414.4 557.6,1409.2 558.0,1404.1 558.5,1399.1 559.2,1391.8 559.9,1384.6 560.6,1377.7 561.2,1371.0 561.9,1364.5 562.6,1358.3 563.3,1352.3 563.9,1346.5 564.6,1340.9 565.3,1335.6 566.0,1330.6 566.8,1324.2 567.7,1318.2 568.6,1312.7 569.5,1307.7 570.6,1302.0 571.7,1297.0 573.0,1292.0 574.7,1287.0 577.6,1282.8 581.8,1286.1 583.7,1291.4 584.9,1296.3 586.1,1302.2 587.1,1307.9 588.0,1313.0 588.8,1318.5 589.6,1324.5 590.4,1330.9 591.0,1336.0 591.6,1341.3 592.2,1346.9 592.8,1352.7 593.4,1358.7 594.0,1365.0 594.6,1371.5 595.2,1378.2 595.8,1385.1 596.4,1392.3 597.0,1399.6 597.4,1404.6 597.8,1409.8 598.2,1415.0 598.6,1420.3 599.0,1425.6 599.4,1431.1 599.8,1436.7 600.2,1442.3 600.6,1448.0 601.0,1453.9 601.4,1459.7 601.8,1465.7 602.2,1471.8 602.7,1477.9 603.1,1484.1 603.5,1490.4 603.9,1496.7 604.3,1503.1 604.7,1509.6 605.1,1516.2 605.6,1522.8 606.0,1529.5 606.4,1536.3 606.8,1543.1 607.3,1550.0 607.7,1557.0 608.1,1564.0 608.5,1571.0 609.0,1578.1 609.4,1585.3 609.8,1592.5 610.3,1599.8 610.7,1607.1 611.1,1614.5 611.6,1621.9 612.0,1629.4 612.5,1636.9 612.9,1644.5 613.3,1652.1 613.8,1659.7 614.2,1667.4 614.7,1675.1 615.1,1682.8 615.6,1690.6 616.0,1698.4 616.5,1706.2 616.9,1714.0 617.3,1721.9 617.8,1729.8 618.2,1737.7 618.7,1745.7 619.2,1753.6 619.6,1761.6 620.1,1769.6 620.5,1777.6 621.0,1785.6 621.4,1793.6 621.9,1801.7 622.3,1809.7 622.8,1817.7 623.2,1825.8 623.7,1833.8 624.2,1841.9 624.6,1849.9 625.1,1857.9 625.6,1866.0 626.0,1874.0 626.5,1882.0 627.0,1890.0 627.4,1898.0 627.9,1905.9 628.4,1913.9 628.8,1921.8 629.3,1929.7 629.8,1937.6 630.2,1945.5 630.7,1953.3 631.2,1961.2 631.7,1968.9 632.2,1976.7 632.6,1984.4 633.1,1992.1 633.6,1999.8 634.1,2007.4 634.5,2015.0 635.0,2022.5 635.5,2030.0 636.0,2037.5 636.4,2044.9 636.9,2052.2 637.4,2059.5 637.9,2066.8 638.4,2074.0 638.8,2081.2 639.3,2088.3 639.8,2095.3 640.3,2102.3 640.7,2109.2 641.2,2116.1 641.7,2122.9 642.1,2129.6 642.6,2136.3 643.1,2142.9 643.6,2149.5 644.0,2155.9 644.5,2162.3 645.0,2168.7 645.4,2174.9 645.9,2181.1 646.4,2187.2 646.8,2193.2 647.3,2199.2 647.8,2205.0 648.2,2210.8 648.7,2216.5 649.2,2222.1 649.6,2227.7 650.1,2233.1 650.6,2238.5 651.0,2243.7 651.5,2248.9 652.0,2254.0 652.4,2259.0 653.1,2266.3 653.8,2273.4 654.5,2280.3 655.2,2287.0 655.9,2293.4 656.7,2299.6 657.4,2305.6 658.1,2311.3 658.8,2316.9 659.5,2322.1 660.2,2327.2 661.1,2333.5 662.1,2339.4 663.0,2344.8 664.0,2349.8 665.2,2355.5 666.4,2360.4 667.9,2365.3 669.9,2370.2 673.1,2374.3 677.7,2371.6 680.1,2366.7 682.0,2361.2 683.6,2355.4 685.0,2349.7 686.1,2344.7 687.2,2339.3 688.3,2333.4 689.4,2327.0 690.2,2322.0 691.1,2316.7 691.9,2311.2 692.7,2305.4 693.6,2299.4 694.4,2293.2 695.2,2286.8 696.1,2280.1 696.9,2273.2 697.8,2266.1 698.6,2258.8 699.1,2253.8 699.7,2248.7 700.3,2243.5 700.8,2238.2 701.4,2232.9 701.9,2227.4 702.5,2221.9 703.0,2216.3 703.6,2210.6 704.1,2204.8 704.7,2198.9 705.2,2193.0 705.7,2186.9 706.3,2180.8 706.8,2174.7 707.4,2168.4 707.9,2162.1 708.4,2155.7 709.0,2149.2 709.5,2142.6 710.0,2136.0 710.6,2129.4 711.1,2122.6 711.6,2115.8 712.1,2108.9 712.7,2102.0 713.2,2095.0 713.7,2088.0 714.2,2080.9 714.7,2073.7 715.2,2066.5 715.7,2059.2 716.2,2051.9 716.8,2044.5 717.3,2037.1 717.8,2029.7 718.3,2022.2 718.8,2014.6 719.3,2007.1 719.8,1999.4 720.3,1991.8 720.8,1984.1 721.3,1976.4 721.8,1968.6 722.2,1960.8 722.7,1953.0 723.2,1945.2 723.7,1937.3 724.2,1929.4 724.7,1921.5 725.2,1913.6 725.7,1905.6 726.2,1897.6 726.7,1889.6 727.2,1881.6 727.7,1873.6 728.2,1865.6 728.7,1857.6 729.2,1849.6 729.7,1841.5 730.2,1833.5 730.7,1825.4 731.2,1817.4 731.7,1809.4 732.2,1801.3 732.7,1793.3 733.2,1785.3 733.7,1777.3 734.3,1769.3 734.8,1761.3 735.3,1753.3 735.8,1745.3 736.3,1737.4 736.8,1729.5 737.3,1721.6 737.9,1713.7 738.4,1705.9 738.9,1698.0 739.4,1690.2 739.9,1682.5 740.4,1674.7 740.9,1667.0 741.5,1659.4 742.0,1651.7 742.5,1644.2 743.0,1636.6 743.5,1629.1 744.0,1621.6 744.5,1614.2 745.0,1606.8 745.4,1599.5 745.9,1592.2 746.4,1585.0 746.9,1577.8 747.4,1570.7 747.9,1563.7 748.3,1556.7 748.8,1549.7 749.3,1542.8 749.7,1536.0 750.2,1529.2 750.6,1522.5 751.1,1515.9 751.5,1509.4 752.0,1502.9 752.5,1496.4 752.9,1490.1 753.3,1483.8 753.8,1477.6 754.2,1471.5 754.7,1465.5 755.1,1459.5 755.6,1453.6 756.0,1447.8 756.4,1442.1 756.9,1436.4 757.3,1430.9 757.8,1425.4 758.2,1420.0 758.6,1414.7 759.0,1409.5 759.5,1404.4 759.9,1399.4 760.5,1392.0 761.2,1384.9 761.8,1378.0 762.5,1371.3 763.1,1364.8 763.7,1358.5 764.3,1352.5 765.0,1346.7 765.6,1341.2 766.2,1335.8 766.9,1330.8 767.7,1324.4 768.5,1318.4 769.3,1312.9 770.2,1307.8 771.2,1302.1 772.2,1297.1 773.5,1292.1 775.1,1287.0 777.9,1282.8 782.0,1286.0 783.9,1291.4 785.1,1296.2 786.3,1302.1 787.4,1307.8 788.2,1312.8 789.0,1318.4 789.8,1324.3 790.6,1330.7 791.2,1335.8 791.8,1341.1 792.4,1346.7 793.0,1352.4 793.6,1358.5 794.3,1364.7 794.9,1371.2 795.5,1377.9 796.1,1384.8 796.7,1392.0 797.3,1399.3 797.7,1404.3 798.1,1409.4 798.5,1414.6 798.9,1419.9 799.4,1425.3 799.8,1430.8 800.2,1436.3 800.6,1442.0 801.0,1447.7 801.4,1453.5 801.8,1459.4 802.3,1465.4 802.7,1471.4 803.1,1477.5 803.5,1483.7 803.9,1490.0 804.3,1496.3 804.8,1502.8 805.2,1509.2 805.6,1515.8 806.0,1522.4 806.5,1529.1 806.9,1535.9 807.3,1542.7 807.7,1549.6 808.2,1556.5 808.6,1563.5 809.0,1570.6 809.5,1577.7 809.9,1584.9 810.3,1592.1 810.8,1599.4 811.2,1606.7 811.6,1614.1 812.1,1621.5 812.5,1629.0 812.9,1636.5 813.4,1644.0 813.8,1651.6 814.3,1659.2 814.7,1666.9 815.2,1674.6 815.6,1682.3 816.0,1690.1 816.5,1697.9 816.9,1705.7 817.4,1713.6 817.8,1721.4 818.3,1729.3 818.7,1737.3 819.2,1745.2 819.6,1753.2 820.1,1761.1 820.5,1769.1 821.0,1777.1 821.4,1785.1 821.9,1793.1 822.3,1801.2 822.8,1809.2 823.3,1817.3 823.7,1825.3 824.2,1833.3 824.6,1841.4 825.1,1849.4 825.6,1857.4 826.0,1865.5 826.5,1873.5 826.9,1881.5 827.4,1889.5 827.9,1897.5 828.3,1905.5 828.8,1913.4 829.3,1921.3 829.7,1929.3 830.2,1937.2 830.7,1945.0 831.1,1952.9 831.6,1960.7 832.1,1968.5 832.5,1976.2 833.0,1984.0 833.5,1991.7 834.0,1999.3 834.4,2006.9 834.9,2014.5 835.4,2022.1 835.9,2029.6 836.3,2037.0 836.8,2044.4 837.3,2051.8 837.8,2059.1 838.3,2066.4 838.8,2073.6 839.3,2080.7 839.7,2087.8 840.2,2094.9 840.7,2101.9 841.2,2108.8 841.7,2115.7 842.2,2122.5 842.7,2129.2 843.2,2135.9 843.7,2142.5 844.2,2149.1 844.7,2155.5 845.2,2162.0 845.7,2168.3 846.2,2174.5 846.7,2180.7 847.3,2186.8 847.8,2192.9 848.3,2198.8 848.8,2204.7 849.3,2210.5 849.8,2216.2 850.3,2221.8 850.8,2227.3 851.4,2232.8 851.9,2238.1 852.4,2243.4 852.9,2248.6 853.4,2253.7 854.0,2258.7 854.7,2266.0 855.5,2273.1 856.3,2280.0 857.1,2286.7 857.9,2293.1 858.7,2299.4 859.5,2305.4 860.3,2311.1 861.1,2316.6 861.8,2321.9 862.6,2327.0 863.7,2333.3 864.8,2339.2 865.8,2344.7 866.9,2349.7 868.2,2355.3 869.5,2360.3 871.1,2365.2 873.2,2370.2 876.4,2374.1 881.1,2372.0 883.4,2367.4 885.3,2362.2 886.9,2356.5 888.2,2351.1 889.5,2344.9 890.5,2339.4 891.6,2333.5 892.6,2327.2 893.4,2322.2 894.2,2316.9 895.0,2311.4 895.8,2305.7 896.6,2299.7 897.4,2293.5 898.2,2287.0 899.0,2280.4 899.7,2273.5 900.5,2266.4 901.3,2259.1 901.8,2254.1 902.4,2249.0 902.9,2243.8 903.4,2238.6 903.9,2233.2 904.5,2227.8 905.0,2222.2 905.5,2216.6 906.0,2210.9 906.5,2205.1 907.1,2199.3 907.6,2193.3 908.1,2187.3 908.6,2181.2 909.1,2175.0 909.7,2168.8 910.2,2162.4 910.7,2156.1 911.2,2149.6 911.7,2143.0 912.3,2136.4 912.8,2129.8 913.3,2123.0 913.8,2116.2 914.3,2109.3 914.8,2102.4 915.3,2095.4 915.9,2088.4 916.4,2081.3 916.9,2074.1 917.4,2066.9 917.9,2059.7 918.4,2052.4 919.0,2045.0 919.5,2037.6 920.0,2030.1 920.5,2022.6 921.0,2015.1 921.5,2007.5 922.0,1999.9 922.6,1992.3 923.1,1984.6 923.6,1976.8 924.1,1969.1 924.6,1961.3 925.1,1953.5 925.6,1945.6 926.1,1937.8 926.6,1929.9 927.1,1922.0 927.6,1914.0 928.1,1906.1 928.6,1898.1 929.1,1890.1 929.6,1882.1 930.1,1874.1 930.6,1866.1 931.1,1858.1 931.6,1850.0 932.1,1842.0 932.6,1834.0 933.1,1825.9 933.5,1817.9 934.0,1809.8 934.5,1801.8 935.0,1793.8 935.5,1785.7 935.9,1777.7 936.4,1769.7 936.9,1761.7 937.3,1753.8 937.8,1745.8 938.3,1737.9 938.8,1730.0 939.2,1722.1 939.7,1714.2 940.1,1706.3 940.6,1698.5 941.1,1690.7 941.5,1682.9 942.0,1675.2 942.5,1667.5 942.9,1659.8 943.4,1652.2 943.8,1644.6 944.3,1637.1 944.7,1629.5 945.2,1622.1 945.6,1614.7 946.1,1607.3 946.5,1599.9 947.0,1592.7 947.4,1585.4 947.9,1578.3 948.3,1571.1 948.8,1564.1 949.2,1557.1 949.6,1550.1 950.1,1543.2 950.5,1536.4 951.0,1529.6 951.4,1522.9 951.8,1516.3 952.3,1509.8 952.7,1503.3 953.1,1496.8 953.6,1490.5 954.0,1484.2 954.4,1478.0 954.9,1471.9 955.3,1465.8 955.7,1459.8 956.1,1454.0 956.6,1448.1 957.0,1442.4 957.4,1436.8 957.8,1431.2 958.3,1425.7 958.7,1420.3 959.1,1415.1 959.5,1409.8 960.0,1404.7 960.4,1399.7 961.0,1392.3 961.6,1385.2 962.3,1378.3 962.9,1371.5 963.5,1365.1 964.1,1358.8 964.8,1352.8 965.4,1346.9 966.0,1341.4 966.6,1336.1 967.2,1331.0 968.1,1324.6 968.9,1318.6 969.7,1313.1 970.5,1308.0 971.6,1302.3 972.6,1297.3 973.8,1292.2 975.5,1287.1 978.1,1282.8 982.2,1286.0 984.0,1291.3 985.4,1297.0 986.4,1302.0 987.4,1307.6 988.1,1312.7 988.9,1318.2 989.7,1324.1 990.5,1330.5 991.1,1335.6 991.7,1340.9 992.3,1346.4 992.8,1352.2 993.4,1358.2 994.0,1364.5 994.6,1370.9 995.2,1377.6 995.8,1384.5 996.4,1391.7 997.0,1399.0 997.4,1404.0 997.8,1409.1 998.2,1414.3 998.6,1419.6 999.0,1425.0 999.4,1430.4 999.8,1436.0 1000.2,1441.6 1000.6,1447.3 1001.1,1453.1 1001.5,1459.0 1001.9,1465.0 1002.3,1471.0 1002.7,1477.1 1003.2,1483.3 1003.6,1489.6 1004.0,1496.0 1004.4,1502.4 1004.9,1508.9 1005.3,1515.4 1005.7,1522.0 1006.2,1528.7 1006.6,1535.5 1007.0,1542.3 1007.5,1549.2 1007.9,1556.1 1008.4,1563.1 1008.8,1570.2 1009.3,1577.3 1009.8,1584.4 1010.2,1591.7 1010.7,1598.9 1011.2,1606.3 1011.7,1613.6 1012.1,1621.0 1012.6,1628.5 1013.1,1636.0 1013.6,1643.6 1014.1,1651.1 1014.6,1658.8 1015.1,1666.4 1015.6,1674.1 1016.0,1681.9 1016.5,1689.6 1017.0,1697.4 1017.5,1705.2 1018.0,1713.1 1018.6,1721.0 1019.1,1728.9 1019.6,1736.8 1020.1,1744.7 1020.6,1752.7 1021.1,1760.6 1021.6,1768.6 1022.1,1776.6 1022.6,1784.6 1023.1,1792.7 1023.6,1800.7 1024.1,1808.7 1024.6,1816.8 1025.1,1824.8 1025.6,1832.8 1026.1,1840.9 1026.6,1848.9 1027.1,1857.0 1027.5,1865.0 1028.0,1873.0 1028.5,1881.0 1029.0,1889.0 1029.5,1897.0 1030.0,1905.0 1030.5,1912.9 1031.0,1920.9 1031.5,1928.8 1032.0,1936.7 1032.5,1944.6 1033.0,1952.4 1033.5,1960.2 1034.0,1968.0 1034.5,1975.8 1035.0,1983.5 1035.5,1991.2 1036.0,1998.9 1036.5,2006.5 1037.0,2014.1 1037.5,2021.6 1038.0,2029.1 1038.5,2036.6 1039.0,2044.0 1039.5,2051.3 1040.0,2058.7 1040.5,2065.9 1041.0,2073.1 1041.6,2080.3 1042.1,2087.4 1042.6,2094.5 1043.1,2101.5 1043.6,2108.4 1044.1,2115.3 1044.6,2122.1 1045.2,2128.8 1045.7,2135.5 1046.2,2142.1 1046.7,2148.7 1047.3,2155.2 1047.8,2161.6 1048.3,2167.9 1048.8,2174.2 1049.4,2180.4 1049.9,2186.5 1050.4,2192.5 1050.9,2198.5 1051.5,2204.3 1052.0,2210.1 1052.5,2215.8 1053.1,2221.5 1053.6,2227.0 1054.1,2232.5 1054.7,2237.8 1055.2,2243.1 1055.8,2248.3 1056.3,2253.4 1056.8,2258.4 1057.6,2265.7 1058.4,2272.8 1059.3,2279.7 1060.1,2286.4 1060.9,2292.9 1061.7,2299.1 1062.5,2305.1 1063.3,2310.9 1064.1,2316.4 1064.9,2321.7 1065.7,2326.8 1066.8,2333.1 1067.9,2339.0 1069.0,2344.5 1070.0,2349.6 1071.4,2355.2 1072.7,2360.1 1074.3,2365.1 1076.4,2370.1 1079.6,2374.1 1084.2,2372.1 1086.5,2367.5 1088.3,2362.3 1089.8,2356.7 1091.1,2351.2 1092.3,2345.0 1093.3,2339.6 1094.4,2333.7 1095.4,2327.4 1096.1,2322.4 1096.9,2317.1 1097.6,2311.6 1098.4,2305.9 1099.1,2299.9 1099.9,2293.7 1100.6,2287.3 1101.4,2280.6 1102.1,2273.8 1102.9,2266.7 1103.6,2259.4 1104.1,2254.4 1104.6,2249.3 1105.1,2244.1 1105.6,2238.9 1106.1,2233.5 1106.6,2228.1 1107.1,2222.6 1107.6,2217.0 1108.1,2211.3 1108.6,2205.5 1109.1,2199.6 1109.6,2193.7 1110.1,2187.7 1110.6,2181.6 1111.1,2175.4 1111.6,2169.2 1112.0,2162.8 1112.5,2156.4 1113.0,2150.0 1113.5,2143.4 1114.0,2136.8 1114.5,2130.2 1115.0,2123.4 1115.5,2116.6 1116.0,2109.8 1116.5,2102.8 1117.0,2095.9 1117.5,2088.8 1118.0,2081.7 1118.5,2074.6 1119.0,2067.4 1119.5,2060.1 1120.0,2052.8 1120.5,2045.4 1121.0,2038.0 1121.5,2030.6 1122.0,2023.1 1122.5,2015.6 1123.0,2008.0 1123.5,2000.4 1124.0,1992.7 1124.5,1985.0 1125.0,1977.3 1125.4,1969.6 1125.9,1961.8 1126.4,1954.0 1126.9,1946.1 1127.4,1938.2 1127.9,1930.4 1128.4,1922.4 1128.9,1914.5 1129.4,1906.6 1129.8,1898.6 1130.3,1890.6 1130.8,1882.6 1131.3,1874.6 1131.8,1866.6 1132.2,1858.6 1132.7,1850.5 1133.2,1842.5 1133.7,1834.4 1134.1,1826.4 1134.6,1818.4 1135.0,1810.3 1135.5,1802.3 1136.0,1794.3 1136.4,1786.2 1136.9,1778.2 1137.3,1770.2 1137.8,1762.2 1138.2,1754.3 1138.7,1746.3 1139.1,1738.4 1139.6,1730.4 1140.0,1722.5 1140.5,1714.6 1140.9,1706.8 1141.4,1699.0 1141.8,1691.2 1142.2,1683.4 1142.7,1675.7 1143.1,1668.0 1143.6,1660.3 1144.0,1652.7 1144.4,1645.1 1144.9,1637.5 1145.3,1630.0 1145.7,1622.5 1146.2,1615.1 1146.6,1607.7 1147.1,1600.4 1147.5,1593.1 1147.9,1585.9 1148.4,1578.7 1148.8,1571.6 1149.2,1564.5 1149.7,1557.5 1150.1,1550.5 1150.5,1543.7 1151.0,1536.8 1151.4,1530.1 1151.9,1523.4 1152.3,1516.7 1152.7,1510.1 1153.2,1503.6 1153.6,1497.2 1154.0,1490.9 1154.5,1484.6 1154.9,1478.4 1155.3,1472.2 1155.8,1466.2 1156.2,1460.2 1156.6,1454.3 1157.1,1448.5 1157.5,1442.8 1157.9,1437.1 1158.4,1431.5 1158.8,1426.1 1159.2,1420.7 1159.7,1415.4 1160.1,1410.2 1160.5,1405.0 1161.0,1400.0 1161.6,1392.6 1162.3,1385.5 1162.9,1378.5 1163.5,1371.8 1164.2,1365.3 1164.8,1359.0 1165.5,1353.0 1166.1,1347.2 1166.8,1341.6 1167.4,1336.3 1168.0,1331.2 1168.9,1324.7 1169.7,1318.8 1170.6,1313.2 1171.4,1308.1 1172.5,1302.4 1173.5,1297.4 1174.8,1292.3 1176.5,1287.2 1179.2,1282.8 1183.3,1285.9 1185.1,1291.2 1186.5,1296.9 1187.5,1301.8 1188.5,1307.5 1189.2,1312.5 1190.0,1318.0 1190.8,1323.9 1191.6,1330.3 1192.2,1335.4 1192.7,1340.7 1193.3,1346.2 1193.9,1352.0 1194.5,1358.0 1195.1,1364.2 1195.7,1370.7 1196.3,1377.4 1196.9,1384.3 1197.4,1391.4 1198.0,1398.7 1198.4,1403.7 1198.8,1408.8 1199.2,1414.0 1199.6,1419.3 1200.1,1424.7 1200.5,1430.1 1200.9,1435.7 1201.3,1441.3 1201.7,1447.0 1202.1,1452.8 1202.5,1458.7 1202.9,1464.6 1203.3,1470.7 1203.8,1476.8 1204.2,1483.0 1204.6,1489.2 1205.0,1495.6 1205.5,1502.0 1205.9,1508.5 1206.3,1515.0 1206.8,1521.6 1207.2,1528.3 1207.7,1535.1 1208.1,1541.9 1208.6,1548.8 1209.0,1555.7 1209.5,1562.7 1209.9,1569.7 1210.4,1576.8 1210.9,1584.0 1211.3,1591.2 1211.8,1598.5 1212.3,1605.8 1212.8,1613.2 1213.3,1620.6 1213.8,1628.1 1214.3,1635.6 1214.7,1643.1 1215.2,1650.7 1215.8,1658.3 1216.3,1666.0 1216.8,1673.7 1217.3,1681.4 1217.8,1689.2 1218.3,1696.9 1218.8,1704.8 1219.3,1712.6 1219.8,1720.5 1220.4,1728.4 1220.9,1736.3 1221.4,1744.2 1221.9,1752.2 1222.4,1760.2 1222.9,1768.1 1223.5,1776.1 1224.0,1784.2 1224.5,1792.2 1225.0,1800.2 1225.5,1808.2 1226.0,1816.3 1226.5,1824.3 1227.0,1832.4 1227.6,1840.4 1228.1,1848.4 1228.6,1856.5 1229.1,1864.5 1229.6,1872.5 1230.1,1880.5 1230.6,1888.5 1231.1,1896.5 1231.7,1904.5 1232.2,1912.5 1232.7,1920.4 1233.2,1928.3 1233.7,1936.2 1234.2,1944.1 1234.7,1951.9 1235.3,1959.7 1235.8,1967.5 1236.3,1975.3 1236.8,1983.0 1237.3,1990.7 1237.9,1998.4 1238.4,2006.0 1238.9,2013.6 1239.4,2021.1 1239.9,2028.7 1240.5,2036.1 1241.0,2043.5 1241.5,2050.9 1242.0,2058.2 1242.5,2065.5 1243.1,2072.7 1243.6,2079.9 1244.1,2087.0 1244.6,2094.0 1245.2,2101.0 1245.7,2108.0 1246.2,2114.9 1246.7,2121.7 1247.3,2128.4 1247.8,2135.1 1248.3,2141.7 1248.9,2148.3 1249.4,2154.8 1249.9,2161.2 1250.4,2167.5 1251.0,2173.8 1251.5,2180.0 1252.0,2186.1 1252.6,2192.1 1253.1,2198.1 1253.6,2204.0 1254.2,2209.8 1254.7,2215.5 1255.3,2221.1 1255.8,2226.7 1256.3,2232.1 1256.9,2237.5 1257.4,2242.8 1257.9,2248.0 1258.5,2253.1 1259.0,2258.1 1259.8,2265.4 1260.6,2272.6 1261.4,2279.5 1262.3,2286.2 1263.1,2292.6 1263.9,2298.9 1264.7,2304.9 1265.5,2310.7 1266.3,2316.2 1267.1,2321.5 1267.9,2326.6 1269.0,2332.9 1270.0,2338.9 1271.1,2344.4 1272.2,2349.4 1273.5,2355.1 1274.8,2360.0 1276.4,2365.0 1278.5,2370.1 1281.6,2374.1 1286.2,2372.1 1288.5,2367.6 1290.3,2362.4 1291.9,2356.8 1293.1,2351.3 1294.4,2345.2 1295.4,2339.8 1296.4,2333.9 1297.4,2327.6 1298.2,2322.6 1298.9,2317.3 1299.7,2311.9 1300.4,2306.1 1301.2,2300.2 1301.9,2294.0 1302.7,2287.6 1303.4,2280.9 1304.1,2274.0 1304.9,2267.0 1305.6,2259.7 1306.1,2254.7 1306.6,2249.6 1307.1,2244.5 1307.6,2239.2 1308.1,2233.9 1308.6,2228.4 1309.0,2222.9 1309.5,2217.3 1310.0,2211.6 1310.5,2205.8 1311.0,2200.0 1311.5,2194.0 1311.9,2188.0 1312.4,2181.9 1312.9,2175.8 1313.4,2169.5 1313.8,2163.2 1314.3,2156.8 1314.8,2150.4 1315.3,2143.8 1315.7,2137.2 1316.2,2130.6 1316.7,2123.8 1317.1,2117.0 1317.6,2110.2 1318.1,2103.3 1318.5,2096.3 1319.0,2089.2 1319.5,2082.1 1319.9,2075.0 1320.4,2067.8 1320.8,2060.5 1321.3,2053.2 1321.8,2045.9 1322.2,2038.5 1322.7,2031.0 1323.1,2023.5 1323.6,2016.0 1324.0,2008.4 1324.4,2000.8 1324.9,1993.2 1325.3,1985.5 1325.8,1977.8 1326.2,1970.0 1326.7,1962.2 1327.1,1954.4 1327.5,1946.6 1328.0,1938.7 1328.4,1930.8 1328.8,1922.9 1329.3,1915.0 1329.7,1907.0 1330.2,1899.1 1330.6,1891.1 1331.0,1883.1 1331.5,1875.1 1331.9,1867.1 1332.3,1859.0 1332.8,1851.0 1333.2,1843.0 1333.7,1834.9 1334.1,1826.9 1334.5,1818.8 1335.0,1810.8 1335.4,1802.8 1335.8,1794.7 1336.3,1786.7 1336.7,1778.7 1337.1,1770.7 1337.6,1762.7 1338.0,1754.7 1338.4,1746.8 1338.8,1738.8 1339.3,1730.9 1339.7,1723.0 1340.1,1715.1 1340.6,1707.3 1341.0,1699.4 1341.4,1691.6 1341.8,1683.9 1342.3,1676.1 1342.7,1668.4 1343.1,1660.8 1343.6,1653.1 1344.0,1645.5 1344.4,1638.0 1344.8,1630.4 1345.3,1623.0 1345.7,1615.5 1346.1,1608.2 1346.6,1600.8 1347.0,1593.5 1347.4,1586.3 1347.9,1579.1 1348.3,1572.0 1348.7,1564.9 1349.1,1557.9 1349.6,1551.0 1350.0,1544.1 1350.5,1537.2 1350.9,1530.5 1351.3,1523.8 1351.8,1517.1 1352.2,1510.5 1352.6,1504.0 1353.1,1497.6 1353.5,1491.2 1353.9,1485.0 1354.4,1478.7 1354.8,1472.6 1355.3,1466.5 1355.7,1460.6 1356.1,1454.7 1356.6,1448.8 1357.0,1443.1 1357.4,1437.4 1357.9,1431.9 1358.3,1426.4 1358.8,1421.0 1359.2,1415.7 1359.6,1410.5 1360.1,1405.3 1360.5,1400.3 1361.2,1392.9 1361.8,1385.8 1362.5,1378.8 1363.2,1372.1 1363.8,1365.6 1364.5,1359.3 1365.1,1353.2 1365.8,1347.4 1366.5,1341.8 1367.1,1336.5 1367.8,1331.4 1368.7,1324.9 1369.5,1318.9 1370.4,1313.4 1371.3,1308.3 1372.4,1302.5 1373.5,1297.5 1374.8,1292.4 1376.5,1287.2 1379.3,1282.9 1383.6,1285.9 1385.5,1291.1 1386.9,1296.8 1388.0,1301.7 1389.0,1307.3 1389.8,1312.4 1390.7,1317.8 1391.5,1323.8 1392.3,1330.1 1392.9,1335.2 1393.5,1340.4 1394.1,1346.0 1394.8,1351.7 1395.4,1357.7 1396.0,1364.0 1396.6,1370.4 1397.2,1377.1 1397.9,1384.0 1398.5,1391.1 1399.1,1398.4 1399.5,1403.4 1399.9,1408.5 1400.4,1413.7 1400.8,1419.0 1401.2,1424.3 1401.6,1429.8 1402.1,1435.3 1402.5,1440.9 1402.9,1446.7 1403.3,1452.4 1403.8,1458.3 1404.2,1464.3 1404.6,1470.3 1405.1,1476.4 1405.5,1482.6 1406.0,1488.8 1406.4,1495.2 1406.9,1501.6 1407.3,1508.1 1407.7,1514.6 1408.2,1521.2 1408.7,1527.9 1409.1,1534.7 1409.6,1541.5 1410.0,1548.3 1410.5,1555.3 1410.9,1562.3 1411.4,1569.3 1411.9,1576.4 1412.4,1583.6 1412.8,1590.8 1413.3,1598.1 1413.8,1605.4 1414.3,1612.7 1414.7,1620.2 1415.2,1627.6 1415.7,1635.1 1416.2,1642.6 1416.7,1650.2 1417.2,1657.9 1417.7,1665.5 1418.2,1673.2 1418.7,1680.9 1419.2,1688.7 1419.7,1696.5 1420.2,1704.3 1420.7,1712.1 1421.2,1720.0 1421.7,1727.9 1422.2,1735.8 1422.7,1743.8 1423.3,1751.7 1423.8,1759.7 1424.3,1767.7 1424.8,1775.7 1425.3,1783.7 1425.9,1791.7 1426.4,1799.7 1426.9,1807.8 1427.5,1815.8 1428.0,1823.8 1428.5,1831.9 1429.1,1839.9 1429.6,1848.0 1430.2,1856.0 1430.7,1864.0 1431.3,1872.0 1431.9,1880.1 1432.4,1888.1 1433.0,1896.0 1433.6,1904.0 1434.2,1912.0 1434.7,1919.9 1435.3,1927.8 1435.9,1935.7 1436.5,1943.6 1437.1,1951.5 1437.7,1959.3 1438.3,1967.1 1438.9,1974.8 1439.5,1982.6 1440.1,1990.3 1440.7,1997.9 1441.3,2005.6 1441.8,2013.1 1442.4,2020.7 1443.0,2028.2 1443.6,2035.7 1444.2,2043.1 1444.8,2050.5 1445.4,2057.8 1445.9,2065.1 1446.5,2072.3 1447.1,2079.4 1447.6,2086.6 1448.2,2093.6 1448.7,2100.6 1449.3,2107.6 1449.8,2114.4 1450.4,2121.3 1450.9,2128.0 1451.5,2134.7 1452.0,2141.3 1452.5,2147.9 1453.1,2154.4 1453.6,2160.8 1454.2,2167.1 1454.7,2173.4 1455.2,2179.6 1455.8,2185.7 1456.3,2191.8 1456.8,2197.7 1457.4,2203.6 1457.9,2209.4 1458.4,2215.1 1459.0,2220.8 1459.5,2226.3 1460.0,2231.8 1460.5,2237.2 1461.1,2242.5 1461.6,2247.7 1462.1,2252.8 1462.6,2257.8 1463.4,2265.1 1464.2,2272.3 1465.0,2279.2 1465.8,2285.9 1466.5,2292.4 1467.3,2298.6 1468.1,2304.6 1468.9,2310.4 1469.6,2316.0 1470.4,2321.3 1471.2,2326.4 1472.2,2332.8 1473.2,2338.7 1474.2,2344.2 1475.2,2349.3 1476.5,2355.0 1477.7,2359.9 1479.2,2364.9 1481.2,2370.0 1484.2,2374.1 1488.8,2371.8 1490.9,2367.0 1492.6,2361.6 1494.0,2355.9 1495.2,2350.3 1496.1,2345.4 1497.1,2340.0 1498.0,2334.1 1498.9,2327.8 1499.6,2322.8 1500.3,2317.6 1501.0,2312.1 1501.7,2306.4 1502.4,2300.4 1503.1,2294.2 1503.8,2287.8 1504.5,2281.2 1505.1,2274.3 1505.8,2267.3 1506.5,2260.0 1507.2,2252.5 1507.7,2247.4 1508.1,2242.2 1508.6,2236.9 1509.0,2231.5 1509.5,2226.0 1510.0,2220.4 1510.4,2214.8 1510.9,2209.1 1511.3,2203.3 1511.8,2197.4 1512.3,2191.4 1512.7,2185.4 1513.2,2179.2 1513.7,2173.0 1514.1,2166.8 1514.6,2160.4 1515.0,2154.0 1515.5,2147.5 1516.0,2140.9 1516.4,2134.3 1516.9,2127.6 1517.4,2120.9 1517.8,2114.0 1518.3,2107.1 1518.8,2100.2 1519.3,2093.2 1519.7,2086.1 1520.2,2079.0 1520.7,2071.8 1521.1,2064.6 1521.6,2057.3 1522.1,2050.0 1522.6,2042.6 1523.0,2035.2 1523.5,2027.7 1524.0,2020.2 1524.5,2012.7 1524.9,2005.1 1525.4,1997.5 1525.9,1989.8 1526.4,1982.1" fill="none" stroke="#0a70ff" stroke-width="2.5" stroke-linecap="round" stroke-dasharray="0.01 7.85"/>
<polyline points="178,2197.3 253,2143.3 300.7,1919 334.8,2066.2 389.2,2133.8 471,2108.8 532,2109.6 579.7,1997.1 627.4,2138.7 682.3,2119 722.9,1554.4 784.3,2084.6 811.6,2178.2 893,2173.4 961.1,2035.4 995.3,2279 1063.4,2303.2 1097.6,2006 1151.9,2298.9 1186.1,2316.2 1240.7,2247.1 1294.8,2225.7 1349.3,2088.9 1437.8,2095.6 1485.3,1542.3" fill="none" stroke="#00b050" stroke-width="2.5" stroke-dasharray="none"/>
<path d="M178 2171.3V2223.6M253 2091V2195.6M300.7 1907V1931M334.8 1988V2145.3M389.2 2110.6V2158M532 2076.4V2143.3M579.7 1930V2064.2M627.4 2104.2V2173.9M682.3 2091.5V2148.4M722.9 1458V1652.9M811.6 2153.5V2204.5M893 2093.5V2253.7M961.1 1972.2V2098.6M995.3 2265.3V2293M1063.4 2286V2320.5M1097.6 1750V2263.7M1186.1 2304V2328.5M1240.7 2210.4V2284.1M1294.8 2184.6V2267.2M1349.3 1992V2186.1M1437.8 2077V2114M1485.3 1282V2035.6" stroke="#00b050" stroke-width="2.5" fill="none"/>
<rect x="167.25" y="2186.55" width="21.5" height="21.5" fill="#00b050"/>
<rect x="242.25" y="2132.55" width="21.5" height="21.5" fill="#00b050"/>
<rect x="289.95" y="1908.25" width="21.5" height="21.5" fill="#00b050"/>
<rect x="324.05" y="2055.45" width="21.5" height="21.5" fill="#00b050"/>
<rect x="378.45" y="2123.05" width="21.5" height="21.5" fill="#00b050"/>
<rect x="460.25" y="2098.05" width="21.5" height="21.5" fill="#00b050"/>
<rect x="521.25" y="2098.85" width="21.5" height="21.5" fill="#00b050"/>
<rect x="568.95" y="1986.35" width="21.5" height="21.5" fill="#00b050"/>
<rect x="616.65" y="2127.95" width="21.5" height="21.5" fill="#00b050"/>
<rect x="671.55" y="2108.25" width="21.5" height="21.5" fill="#00b050"/>
<rect x="712.15" y="1543.65" width="21.5" height="21.5" fill="#00b050"/>
<rect x="773.55" y="2073.85" width="21.5" height="21.5" fill="#00b050"/>
<rect x="800.85" y="2167.45" width="21.5" height="21.5" fill="#00b050"/>
<rect x="882.25" y="2162.65" width="21.5" height="21.5" fill="#00b050"/>
<rect x="950.35" y="2024.65" width="21.5" height="21.5" fill="#00b050"/>
<rect x="984.55" y="2268.25" width="21.5" height="21.5" fill="#00b050"/>
<rect x="1052.65" y="2292.45" width="21.5" height="21.5" fill="#00b050"/>
<rect x="1086.85" y="1995.25" width="21.5" height="21.5" fill="#00b050"/>
<rect x="1141.15" y="2288.15" width="21.5" height="21.5" fill="#00b050"/>
<rect x="1175.35" y="2305.45" width="21.5" height="21.5" fill="#00b050"/>
<rect x="1229.95" y="2236.35" width="21.5" height="21.5" fill="#00b050"/>
<rect x="1284.05" y="2214.95" width="21.5" height="21.5" fill="#00b050"/>
<rect x="1338.55" y="2078.15" width="21.5" height="21.5" fill="#00b050"/>
<rect x="1427.05" y="2084.85" width="21.5" height="21.5" fill="#00b050"/>
<rect x="1474.55" y="1531.55" width="21.5" height="21.5" fill="#00b050"/>
<g stroke="#000" fill="none">
<path d="M144.5 1280.5V2376.7" stroke-width="3"/>
<path d="M143 2374.7H1527.8" stroke-width="2.9"/>
<path d="M143 1281.5H1527.9" stroke-width="2.5"/>
<path d="M1526.8 1281.5V2375.5" stroke-width="2.2"/>
<path d="M144.5 2219.22h8.5M144.5 2062.94h8.5M144.5 1906.66h8.5M144.5 1750.38h8.5M144.5 1594.1h8.5M144.5 1437.82h8.5M1526.8 2156.7h-8.5M1526.8 1937.9h-8.5M1526.8 1719.1h-8.5M1526.8 1500.3h-8.5" stroke-width="2.2"/>
</g>
<g font-size="36" text-anchor="end">
<text transform="translate(126.4 2387.7) scale(1 1.045)">0,0</text>
<text transform="translate(126.4 2231.42) scale(1 1.045)">0,2</text>
<text transform="translate(126.4 2075.14) scale(1 1.045)">0,4</text>
<text transform="translate(126.4 1918.86) scale(1 1.045)">0,6</text>
<text transform="translate(126.4 1762.58) scale(1 1.045)">0,8</text>
<text transform="translate(126.4 1606.3) scale(1 1.045)">1,0</text>
<text transform="translate(126.4 1450.02) scale(1 1.045)">1,2</text>
<text transform="translate(126.4 1293.74) scale(1 1.045)">1,4</text>
</g>
<g font-size="36">
<text transform="translate(1543.7 2388) scale(1 1.045)">0,0</text>
<text transform="translate(1543.7 2169.2) scale(1 1.045)">0,2</text>
<text transform="translate(1543.7 1950.4) scale(1 1.045)">0,4</text>
<text transform="translate(1543.7 1731.6) scale(1 1.045)">0,6</text>
<text transform="translate(1543.7 1512.8) scale(1 1.045)">0,8</text>
<text transform="translate(1543.7 1294) scale(1 1.045)">1,0</text>
</g>
<g font-size="36" text-anchor="middle">
<text transform="translate(239.3 2424.8) scale(1 1.04)">I</text>
<text transform="translate(334.7 2424.8) scale(1 1.04)">D</text>
<text transform="translate(449.5 2424.8) scale(1 1.04)">I</text>
<text transform="translate(545.4 2424.8) scale(1 1.04)">J</text>
<text transform="translate(661.7 2424.8) scale(1 1.04)">I</text>
<text transform="translate(757.3 2424.8) scale(1 1.04)">F</text>
<text transform="translate(852 2424.8) scale(1 1.04)">I</text>
<text transform="translate(948.2 2424.8) scale(1 1.04)">M</text>
<text transform="translate(1063 2424.8) scale(1 1.04)">I</text>
<text transform="translate(1159 2424.8) scale(1 1.04)">A</text>
<text transform="translate(1267.1 2424.8) scale(1 1.04)">I</text>
<text transform="translate(1363 2424.8) scale(1 1.04)">M</text>
<text transform="translate(1478.9 2424.8) scale(1 1.04)">I</text>
</g>
<text x="835.3" y="2489" font-size="43" text-anchor="middle">Month</text>
<g transform="translate(48.3 1828.35) rotate(-90) scale(1.0866)" font-size="40"><text x="-387.85" textLength="61.6" lengthAdjust="spacingAndGlyphs">Gut</text><text x="-315.15">fluorescence</text><text x="-77.35">(</text><text transform="translate(-64.35 0) scale(1.085 1)">μ</text><text x="-42.05">g</text><text x="-8.75">pigments</text><text x="157.65" text-anchor="middle">·</text><text x="159.95" textLength="60.5" lengthAdjust="spacingAndGlyphs">mg</text><text x="230.05" textLength="120" lengthAdjust="spacingAndGlyphs">protein</text><text x="350" y="-15.9" font-size="29">-1</text><text x="375.15">)</text></g>
<text transform="translate(1652.3 1828.5) rotate(-90)" font-size="42" text-anchor="middle" textLength="338" lengthAdjust="spacingAndGlyphs">Lunar illumination</text>
<text x="1644.5" y="1402.5" font-size="58" textLength="35" lengthAdjust="spacingAndGlyphs">B</text>
</svg>
</body></html>
